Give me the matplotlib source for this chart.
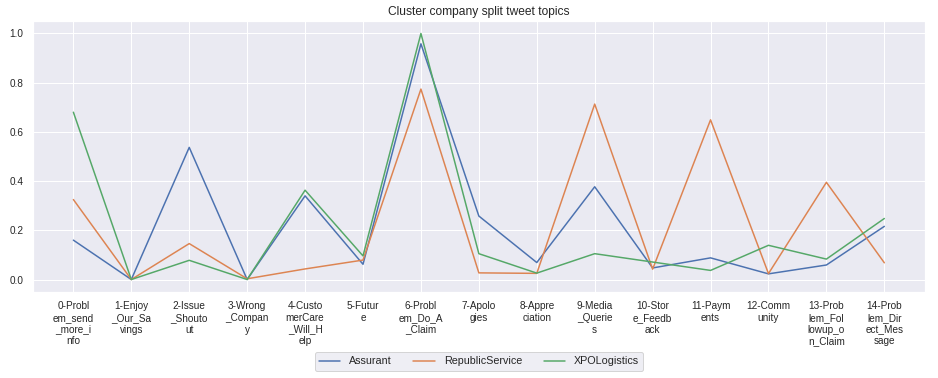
import numpy as np
import matplotlib
matplotlib.use("Agg")
import matplotlib.pyplot as plt
import seaborn as sns

topics = ["0-Problem_send_more_info", "1-Enjoy_Our_Savings", "2-Issue_Shoutout",
          "3-Wrong_Company", "4-CustomerCare_Will_Help", "5-Future",
          "6-Problem_Do_A_Claim", "7-Apologies", "8-Appreciation",
          "9-Media_Queries", "10-Store_Feedback", "11-Payments",
          "12-Community", "13-Problem_Followup_on_Claim", "14-Problem_Direct_Message"]

assurant = [0.160, 0.0, 0.537, 0.0, 0.340, 0.062, 0.958, 0.258, 0.069,
            0.377, 0.047, 0.088, 0.023, 0.059, 0.216]
republic = [0.325, 0.0, 0.146, 0.003, 0.043, 0.079, 0.774, 0.027, 0.025,
            0.713, 0.042, 0.649, 0.024, 0.395, 0.068]
xpo = [0.680, 0.0, 0.078, 0.0, 0.363, 0.096, 1.0, 0.105, 0.026,
       0.105, 0.071, 0.037, 0.139, 0.083, 0.248]

companies = ["Assurant", "RepublicService", "XPOLogistics"]


def wrap(label, n=7):
    # split long topic names into fixed-width chunks
    return "\n".join(label[i:i + n] for i in range(0, len(label), n))


sns.set_theme(style="darkgrid")
plt.rcParams['font.family'] = ['Liberation Sans', 'DejaVu Sans']

fig, ax = plt.subplots(figsize=(938 / 72, 378 / 72), dpi=72)
x = np.arange(len(topics))
for vals, name in zip([assurant, republic, xpo], companies):
    ax.plot(x, vals, label=name, linewidth=1.5)

ax.set_xticks(x)
ax.set_xticklabels([wrap(t) for t in topics], fontsize=10)
ax.tick_params(axis='y', labelsize=10)
ax.set_title("Cluster company split tweet topics", fontsize=12)
ax.legend(loc='upper center', bbox_to_anchor=(0.5, -0.203), ncol=3, fontsize=10.8)

fig.subplots_adjust(left=0.035, right=0.986, top=0.944, bottom=0.228)
fig.savefig("out.png", dpi=72)
